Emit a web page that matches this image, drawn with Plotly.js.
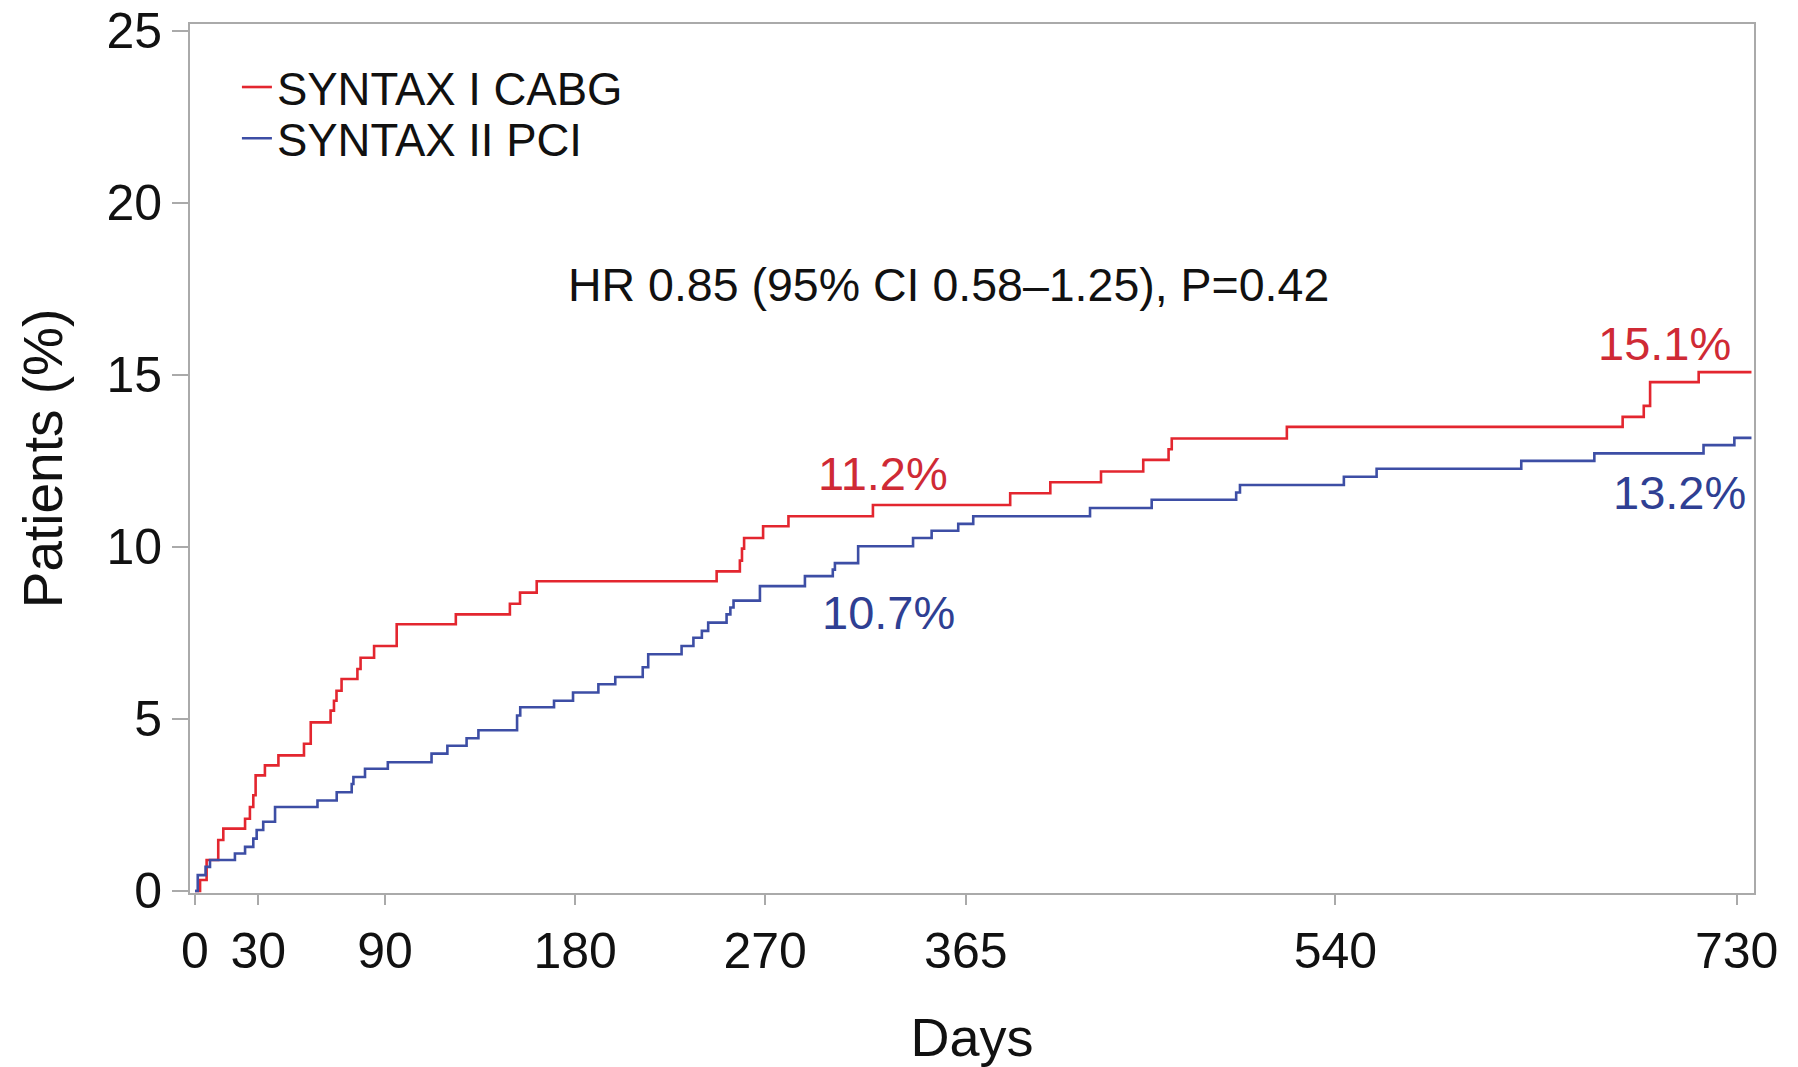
<!DOCTYPE html>
<html>
<head>
<meta charset="utf-8">
<script src="https://cdn.plot.ly/plotly-3.0.1.min.js"></script>
<style>html,body{margin:0;padding:0;background:#fff;}#chart{width:1798px;height:1067px;}</style>
</head>
<body>
<div id="chart"></div>
<script>
// SYNTAX I CABG: days and cumulative event rate (%)
const cabgDays = [0, 2.4, 5.5, 11, 13.4, 23.7, 26, 27.6, 28.7, 33.1, 39.5, 51.6, 54.8, 64.2, 65.8, 67, 69.4, 76.9, 78.4, 84.8, 95.5, 123.5, 149.1, 153.9, 161.8, 247, 258, 259, 260, 269, 281, 321, 386, 405, 429, 449, 461, 462.5, 517, 676, 686, 689, 712, 737];
const cabgPct  = [0, 0.32, 0.90, 1.48, 1.81, 2.10, 2.44, 2.78, 3.36, 3.65, 3.94, 4.28, 4.90, 5.24, 5.53, 5.82, 6.16, 6.45, 6.78, 7.12, 7.75, 8.04, 8.35, 8.67, 9.00, 9.29, 9.60, 9.95, 10.26, 10.60, 10.89, 11.22, 11.56, 11.88, 12.19, 12.53, 12.84, 13.15, 13.49, 13.78, 14.10, 14.79, 15.08, 15.08];

// SYNTAX II PCI: days and cumulative event rate (%)
const pciDays = [0, 1.3, 5, 7.1, 18.9, 23.7, 27.6, 29.2, 32.3, 37.9, 58, 67.1, 74.2, 75, 80.5, 91.3, 112, 119.5, 128.6, 134.2, 152.5, 154, 170, 179, 191, 199, 212, 214.6, 230.4, 236, 240, 243, 251.7, 253.5, 255, 267.5, 288.8, 302, 303, 314, 340, 348.8, 361.4, 368.5, 423.8, 453, 493, 494.8, 544, 559.5, 628, 662.6, 714.3, 728.9, 737];
const pciPct  = [0, 0.46, 0.70, 0.90, 1.09, 1.28, 1.52, 1.77, 2.01, 2.44, 2.63, 2.87, 3.11, 3.31, 3.55, 3.74, 3.99, 4.22, 4.44, 4.67, 5.10, 5.34, 5.53, 5.77, 6.01, 6.22, 6.50, 6.88, 7.12, 7.36, 7.56, 7.80, 8.04, 8.24, 8.44, 8.86, 9.15, 9.34, 9.53, 10.02, 10.26, 10.47, 10.67, 10.89, 11.13, 11.37, 11.58, 11.80, 12.04, 12.27, 12.50, 12.72, 12.96, 13.17, 13.17];

const seriesNames = ["SYNTAX I CABG", "SYNTAX II PCI"];
const xTickVals = [0, 30, 90, 180, 270, 365, 540, 730];
const yTickVals = [0, 5, 10, 15, 20, 25];

const labelTexts = ["11.2%", "10.7%", "15.1%", "13.2%"];
const labelDays  = [326, 328.6, 696, 703];
const labelPcts  = [12.13, 8.1, 15.9, 11.58];
const hrText = "HR 0.85 (95% CI 0.58–1.25), P=0.42";

const RED = "#e3262f";
const BLUE = "#3d4ea5";
const RED_TXT = "#cf2a35";
const BLUE_TXT = "#2f3f93";
const FONT = "Liberation Sans, Arial, Helvetica, sans-serif";

const traces = [
  {x: cabgDays, y: cabgPct, name: seriesNames[0], mode: "lines", legend: "legend",
   line: {shape: "hv", color: RED, width: 2.6}},
  {x: pciDays, y: pciPct, name: seriesNames[1], mode: "lines", legend: "legend2",
   line: {shape: "hv", color: BLUE, width: 2.6}}
];

const labelColors = [RED_TXT, BLUE_TXT, RED_TXT, BLUE_TXT];
const annotations = labelTexts.map((t, i) => ({
  x: labelDays[i], y: labelPcts[i], xref: "x", yref: "y", text: t, showarrow: false,
  xanchor: "center", yanchor: "middle", font: {family: FONT, size: 47, color: labelColors[i]}
}));
annotations.push({x: 357, y: 17.6, xref: "x", yref: "y", text: hrText, showarrow: false,
  xanchor: "center", yanchor: "middle", font: {family: FONT, size: 46.5, color: "#111"}});

const legendFont = {family: FONT, size: 45.5, color: "#111"};

const layout = {
  width: 1798, height: 1067,
  margin: {l: 190, r: 44, t: 24, b: 174},
  paper_bgcolor: "#fff", plot_bgcolor: "#fff",
  font: {family: FONT, color: "#111"},
  showlegend: true,
  legend: {x: 0.03, y: 0.969, xanchor: "left", yanchor: "top", bgcolor: "rgba(0,0,0,0)", font: legendFont},
  legend2: {x: 0.03, y: 0.910, xanchor: "left", yanchor: "top", bgcolor: "rgba(0,0,0,0)", font: legendFont},
  xaxis: {
    range: [-2.37, 738.2], tickmode: "array", tickvals: xTickVals, ticktext: xTickVals.map(String),
    showgrid: false, zeroline: false, showline: true, mirror: true, linecolor: "#aaaaaa", linewidth: 2,
    ticks: "outside", ticklen: 10, tickcolor: "#aaaaaa", tickwidth: 2, ticklabelstandoff: 3,
    tickfont: {family: FONT, size: 50, color: "#111"},
    title: {text: "Days", font: {family: FONT, size: 54, color: "#111"}, standoff: 40}
  },
  yaxis: {
    range: [-0.06, 25.2], tickmode: "array", tickvals: yTickVals, ticklabeloverflow: "allow",
    showgrid: false, zeroline: false, showline: true, mirror: true, linecolor: "#aaaaaa", linewidth: 2,
    ticks: "outside", ticklen: 16, tickcolor: "#aaaaaa", tickwidth: 2,
    tickfont: {family: FONT, size: 50, color: "#111"},
    title: {text: "Patients (%)", font: {family: FONT, size: 55, color: "#111"}, standoff: 26}
  },
  annotations: annotations
};

Plotly.newPlot("chart", traces, layout, {displayModeBar: false, staticPlot: true});
</script>
</body>
</html>
